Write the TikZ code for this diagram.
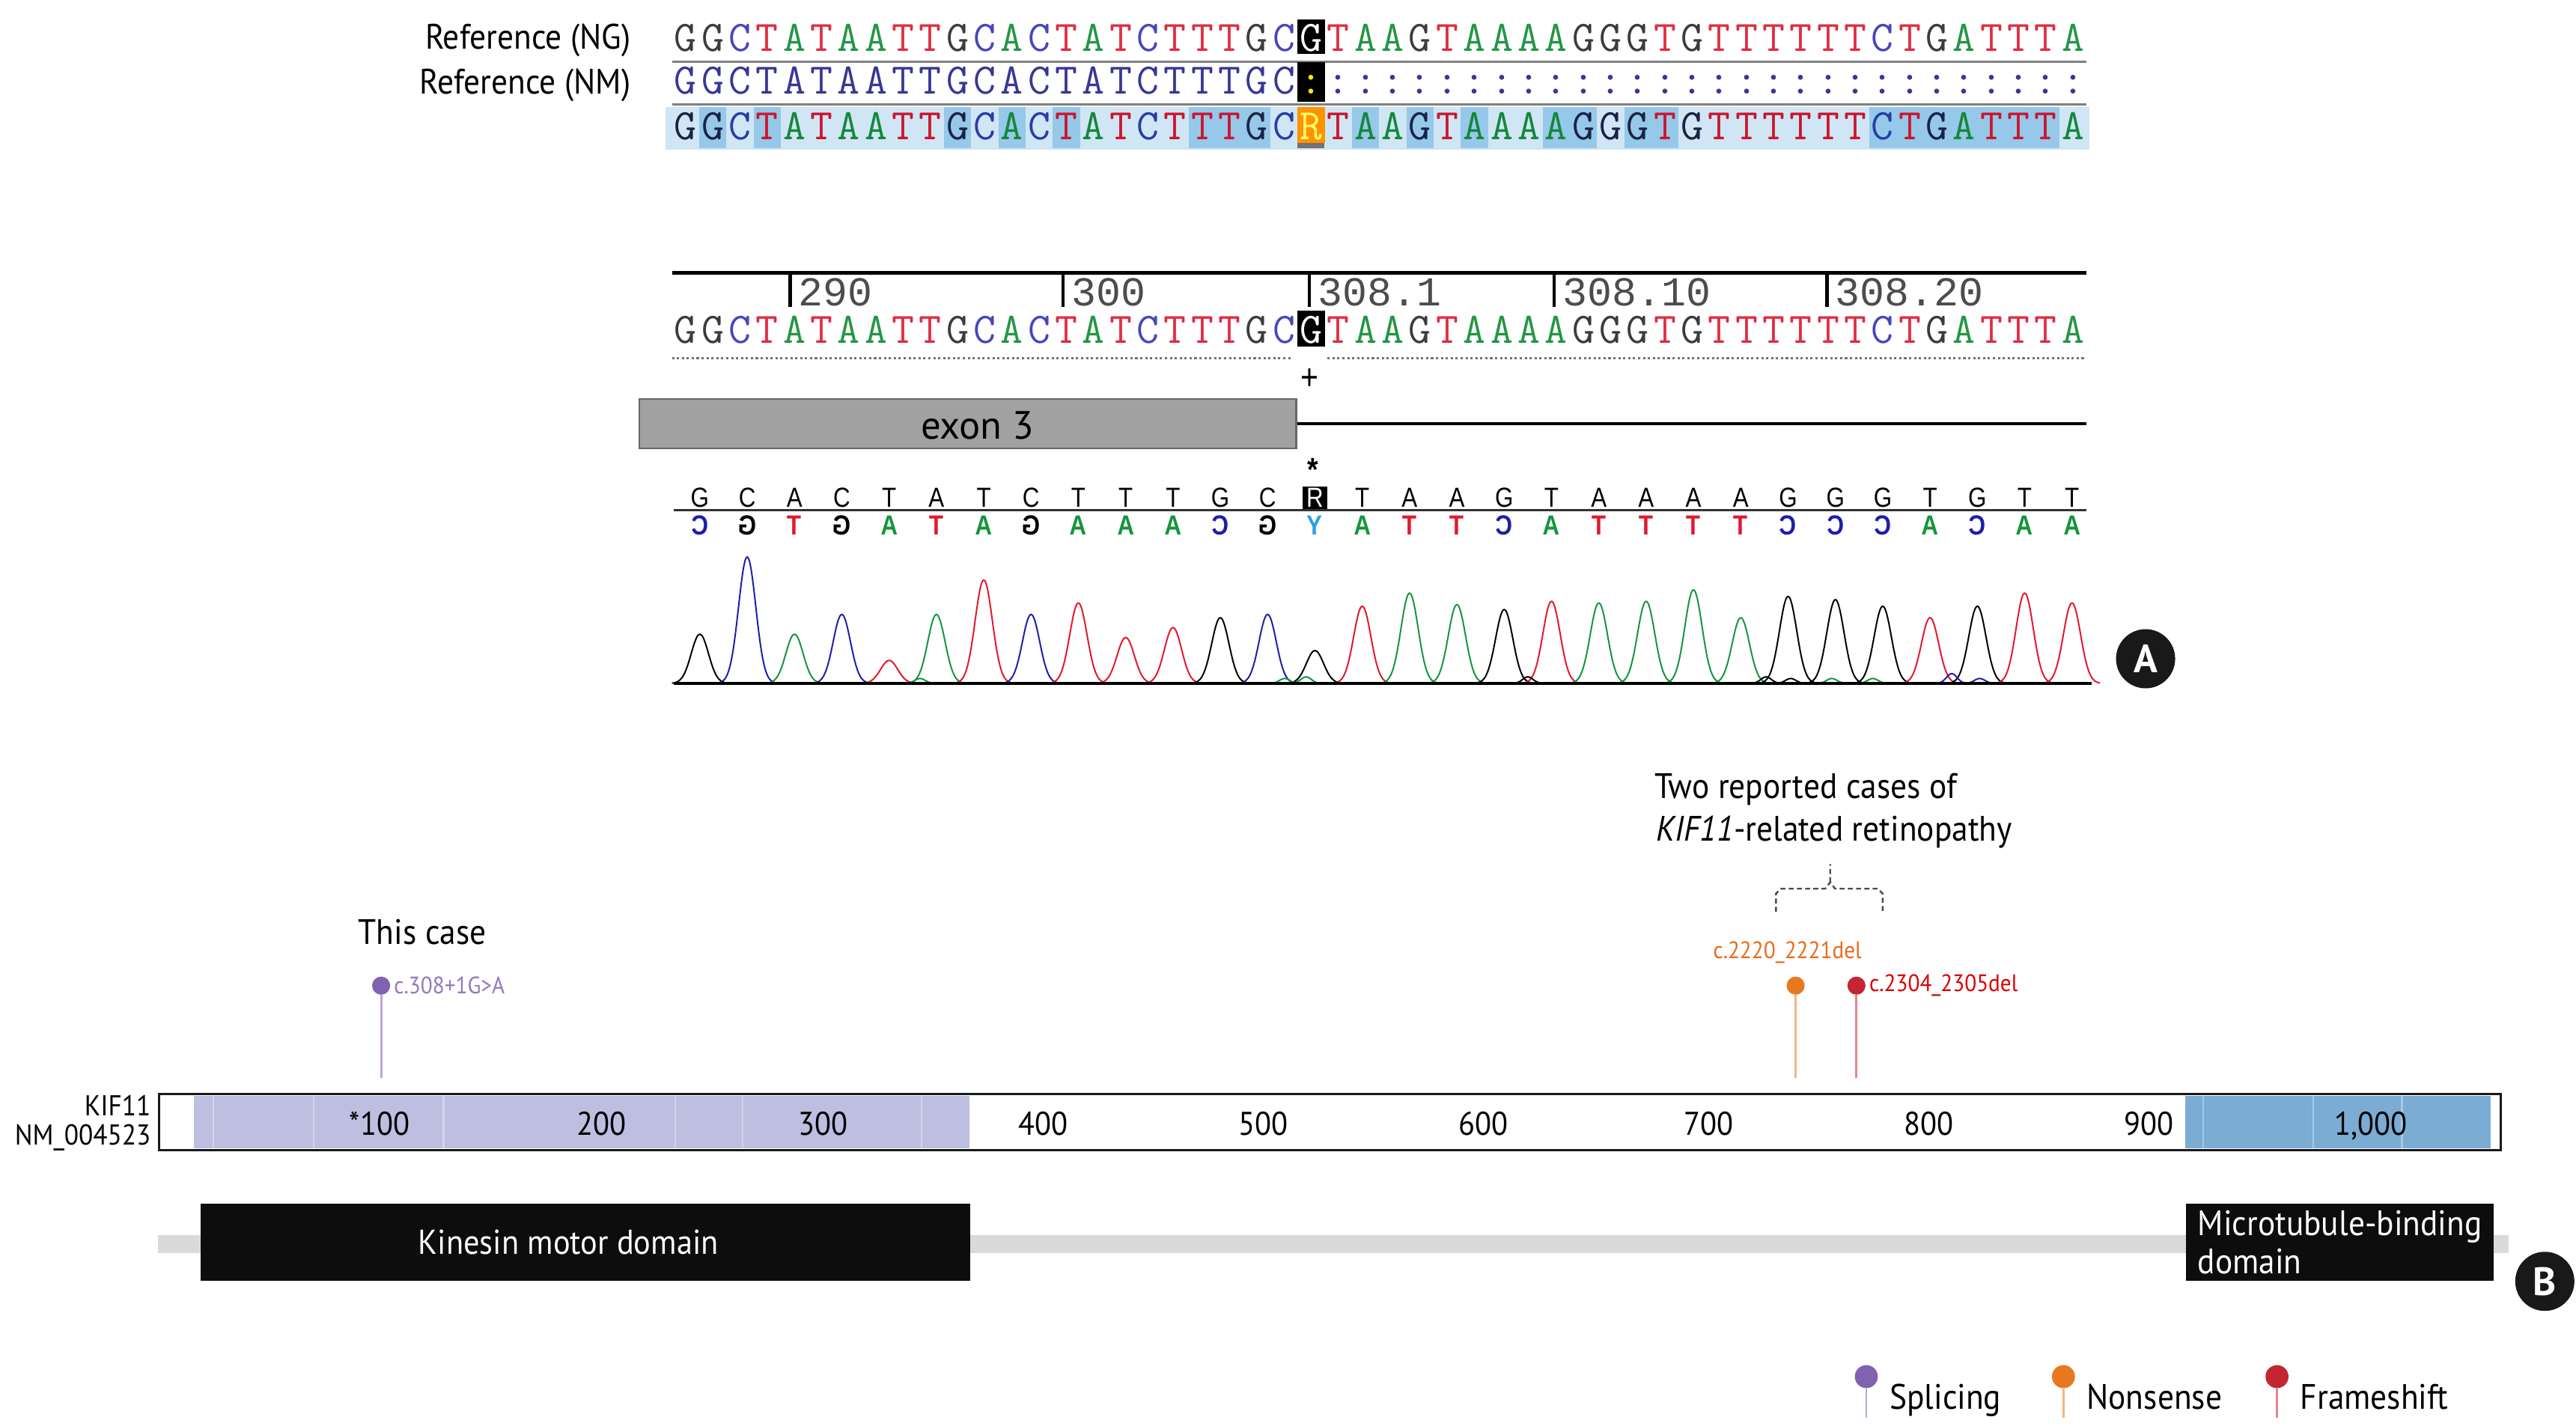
\documentclass[tikz,border=0pt]{standalone}
\usepackage{fontspec}
\usepackage{graphicx}
\usetikzlibrary{positioning, calc}
\setmainfont{PT Sans}
\newfontfamily\lblfont[FakeStretch=0.92]{PT Sans}
\newfontfamily\seqfont{Latin Modern Mono}
\newfontfamily\numfont{Liberation Mono}
\newfontfamily\callfont[FakeStretch=0.85]{Liberation Sans}
\newcommand\lblsize[1]{\lblfont\fontsize{#1}{#1}\selectfont}

% base colours
\definecolor{seqG}{RGB}{60,60,60}
\definecolor{seqC}{RGB}{70,70,190}
\definecolor{seqT}{RGB}{225,45,65}
\definecolor{seqA}{RGB}{35,150,70}
\definecolor{nmblue}{RGB}{55,55,150}
\definecolor{varG}{RGB}{25,35,70}
\definecolor{varC}{RGB}{40,60,170}
\definecolor{varT}{RGB}{205,20,45}
\definecolor{varA}{RGB}{20,135,60}
\definecolor{bandfill}{RGB}{208,230,244}
\definecolor{hilite}{RGB}{150,200,233}
\definecolor{chromG}{RGB}{0,0,0}
\definecolor{chromR}{RGB}{0,0,0}
\definecolor{chromC}{RGB}{30,30,170}
\definecolor{chromA}{RGB}{20,150,60}
\definecolor{chromT}{RGB}{225,25,45}
\definecolor{chromY}{RGB}{40,160,230}
% variant classes and domains
\definecolor{splice}{RGB}{128,98,176}
\definecolor{nonsense}{RGB}{232,120,30}
\definecolor{frameshift}{RGB}{195,38,50}
\definecolor{kinfill}{RGB}{190,190,224}
\definecolor{mtbfill}{RGB}{122,172,212}
\definecolor{backbone}{RGB}{218,218,218}

\def\refseq{G,G,C,T,A,T,A,A,T,T,G,C,A,C,T,A,T,C,T,T,T,G,C,G,T,A,A,G,T,A,A,A,A,G,G,G,T,G,T,T,T,T,T,T,C,T,G,A,T,T,T,A}

\begin{document}
\begin{tikzpicture}[x=1pt, y=-1pt,
  lbl/.style={font=\lblsize{21.5}, inner sep=0pt},
  seqchar/.style={font=\seqfont\fontsize{26.5}{27}\selectfont, inner sep=0pt, anchor=base},
  rulenum/.style={font=\numfont\fontsize{25}{25}\selectfont, text=black!70, inner sep=0pt, anchor=base west},
  callchar/.style={font=\callfont\fontsize{16.8}{17}\selectfont, inner sep=0pt, anchor=base},
  compchar/.style={callchar, font=\callfont\bfseries\fontsize{16.8}{17}\selectfont},
  trace/.style={line width=0.9pt, line join=round},
  rowrule/.style={draw=black!50, line width=1.5pt},
  pinhead/.style={circle, inner sep=0pt, minimum size=11},
  stem/.style={line width=1.3pt},
  mutlbl/.style={font=\lblsize{14.5}, inner sep=0pt},
  axlbl/.style={font=\lblsize{20}, inner sep=0pt, anchor=base},
  domainbox/.style={fill=black!95, inner sep=0pt, minimum height=47},
  badge/.style={circle, fill=black!90, text=white, inner sep=0pt, minimum size=36, font=\bfseries\fontsize{24}{24}\selectfont},
]
  \useasboundingbox (0,0) rectangle (1568,868);
  \fill[white] (0,0) rectangle (1568,868);

  % ---- A: alignment of NG, NM and the read
  \node[lbl, anchor=base east] (refng) at (384,30) {Reference (NG)};
  \node[lbl, anchor=base east] (refnm) at (384,57) {Reference (NM)};
  \fill[bandfill] (405,65) rectangle (1272,91);
  \foreach \i in {1,3,10,12,14,19,20,21,25,27,29,32,33,35,36,44,45,46,47,48,49,50}
    \fill[hilite] ({409+16.56*\i},65) rectangle +(16.56,25);
  \draw[rowrule] (409,37.5) -- (1270,37.5);
  \draw[rowrule] (409,63.5) -- (1270,63.5);
  \foreach \nt [count=\i from 0] in \refseq {
    \pgfmathsetmacro\cx{417.28+16.56*\i}
    \ifnum\i=23\relax\else
      \node[seqchar, text=seq\nt] (ng-\i) at (\cx,31) {\nt};
      \node[seqchar, text=nmblue] (nm-\i) at (\cx,57) {\ifnum\i<23 \nt\else :\fi};
      \node[seqchar, text=var\nt] (var-\i) at (\cx,85) {\nt};
      \node[seqchar, text=seq\nt] (ex-\i) at (\cx,209) {\nt};
    \fi
  }
  \node[seqchar, fill=black, text=white, minimum width=16.56, text height=19, text depth=2] (ng-23) at (798.16,31) {G};
  \node[seqchar, fill=black, text=yellow!90!orange, minimum width=16.56, text height=19, text depth=5] (nm-23) at (798.16,57) {:};
  \node[seqchar, fill=orange!85!yellow, text=yellow!60, minimum width=16.56, text height=20, text depth=2] (var-23) at (798.16,85) {R};
  \fill[black!55] (var-23.south west) rectangle ++(16.56,3);

  % ---- ruler and exon
  \draw[line width=2.5pt] (409,166) -- (1270,166);
  \foreach \t/\lab [count=\k] in {481/290, 647/300, 797/308.1, 946/308.10, 1112/308.20}{
    \draw[line width=2pt] (\t,166) -- (\t,187);
    \node[rulenum] (tick-\k) at (\t+5,186) {\lab};
  }
  \node[seqchar, fill=black, text=white, minimum width=16.56, text height=20, text depth=2] (ex-23) at (798.16,209) {G};
  \draw[black!55, line width=1.3pt, dash pattern=on 1.4pt off 1.6pt] (409,218) -- (787,218) (808,218) -- (1270,218);
  \node[font=\callfont\fontsize{22}{22}\selectfont, inner sep=0pt] (plus) at (797,231) {+};
  \node[draw=black!60, fill=black!37, line width=1pt, minimum width=400, minimum height=30, inner sep=0pt] (exon) at (589,258) {};
  \node[font=\fontsize{24}{24}\selectfont, inner sep=0pt] (exon-txt) at (595,259) {exon 3};
  \coordinate (intron-end) at (1270,258);
  \draw[line width=2pt] (exon.east) -- (intron-end);
  \node[font=\callfont\bfseries\fontsize{20}{20}\selectfont, inner sep=0pt] (star) at (799,286) {*};

  % ---- chromatogram
  \draw[line width=1.6pt, black!80] (410,310.6) -- (1270,310.6);
  \foreach \nt/\cm/\h [count=\i] in {G/C/30, C/G/77, A/T/30, C/G/42, T/A/14, A/T/42, T/A/63, C/G/42, T/A/49, T/A/28,
      T/A/34, G/C/40, C/G/42, R/Y/20, T/A/47, A/T/55, A/T/48, G/C/45, T/A/50, A/T/49,
      A/T/50, A/T/57, A/T/40, G/C/53, G/C/51, G/C/47, T/A/40, G/C/47, T/A/55, T/A/49}{
    \pgfmathsetmacro\px{426+(\i-1)*28.8}
    \draw[trace, chrom\nt] plot[domain=\px-17:\px+17, samples=31, smooth] (\x,{416-\h*exp(-((\x-\px)*(\x-\px))/55)});
    \ifnum\i=14
      \node[callchar, fill=black, text=white, minimum width=15, text height=12.5, text depth=1.5] (call-\i) at (\px,308.5) {\nt};
    \else
      \node[callchar] (call-\i) at (\px,308.5) {\nt};
    \fi
    \node[compchar, text=chrom\cm] (comp-\i) at (\px,325.5) {\scalebox{-1}[1]{\cm}};
  }
  \foreach \p/\h/\cl in {795/4/chromA, 782/3/chromA, 1075/4/chromG, 1090/3/chromG, 1115/3/chromA,
      1140/3/chromA, 1188/6/chromC, 1205/3/chromC, 930/4/chromG, 560/3/chromA}
    \draw[trace, \cl] plot[domain=\p-9:\p+9, samples=15, smooth] (\x,{416-\h*exp(-((\x-\p)*(\x-\p))/20)});
  \draw[line width=1.6pt] (410,416) -- (1273,416);
  \node[badge] (badgeA) at (1306,401) {A};

  % ---- B: variants on the protein
  \node[lbl, anchor=base west] (twocases) at (1007,486) {Two reported cases of};
  \node[lbl, anchor=base west] (retino) at (1008,512) {\textit{KIF11}-related retinopathy};
  \coordinate (brace-l) at (1081,555);
  \coordinate (brace-r) at (1146,555);
  \coordinate (brace-tip) at (1114,526);
  \draw[black!70, line width=1.1pt, dash pattern=on 3pt off 2pt]
    (brace-l) -- ++(0,-11) -- ++(3,-3) -- (1111,541) -- (1114,537) -- (1117,541) -- (1143,541) -- ++(3,3) -- (brace-r)
    (1114,537) -- (brace-tip);
  \node[lbl, anchor=base west] (thiscase) at (218,575) {This case};

  \foreach \nm/\xx/\cl in {m308/232/splice, m2220/1093/nonsense, m2304/1130/frameshift}{
    \coordinate (\nm-foot) at (\xx,656);
    \node[pinhead, fill=\cl] (\nm) at (\xx,600) {};
    \draw[stem, \cl!55] (\nm) -- (\nm-foot);
  }
  \node[mutlbl, text=splice!85!white, right=2pt of m308] (m308-lbl) {c.308+1G\textgreater A};
  \node[mutlbl, text=nonsense!90!red] (m2220-lbl) at (1088,580) {c.2220\_2221del};
  \node[mutlbl, text=red!85!black, right=2pt of m2304] (m2304-lbl) {c.2304\_2305del};

  \fill[kinfill] (118,667) rectangle (590,699);
  \fill[mtbfill] (1330,667) rectangle (1516,699);
  \foreach \s in {130,191,270,411,452,561,1341,1408,1462}
    \draw[white, opacity=0.35, line width=1pt] (\s,667) -- (\s,699);
  \node[draw=black!90, line width=1.3pt, minimum width=1425, minimum height=34, inner sep=0pt] (kif) at (809.5,683) {};
  \foreach \xx/\lab [count=\k] in {231/*100, 366/200, 501/300, 635/400, 769/500, 903/600, 1040/700, 1174/800, 1308/900, 1443/{1,000}}
    \node[axlbl] (ax-\k) at (\xx,691) {\lab};
  \node[lbl, font=\lblsize{17.5}, anchor=base east] (kif-name) at (92,679) {KIF11};
  \node[lbl, font=\lblsize{17.5}, anchor=base east] (kif-acc) at (92,697) {NM\_004523};

  \fill[backbone] (96,752) rectangle (1527,763);
  \node[domainbox, minimum width=468.6] (kinesin) at (356.3,756.2) {};
  \node[lbl, text=white, font=\lblsize{21}] (kinesin-txt) at (346,756) {Kinesin motor domain};
  \node[domainbox, minimum width=187.5, text=white, align=left, font=\lblfont\fontsize{21.5}{23}\selectfont] (mtb) at (1424.3,756.2) {Microtubule-binding\\domain};
  \node[badge] (badgeB) at (1549,780) {B};

  % legend
  \foreach \nm/\xx/\txt in {splice/1136/Splicing, nonsense/1256/Nonsense, frameshift/1386/Frameshift}{
    \coordinate (lg-\nm-foot) at (\xx,863);
    \node[pinhead, minimum size=14, fill=\nm] (lg-\nm) at (\xx,838) {};
    \draw[stem, \nm!55] (lg-\nm) -- (lg-\nm-foot);
    \node[lbl, anchor=base west] (lg-\nm-txt) at (\xx+14,858) {\txt};
  }
\end{tikzpicture}
\end{document}
